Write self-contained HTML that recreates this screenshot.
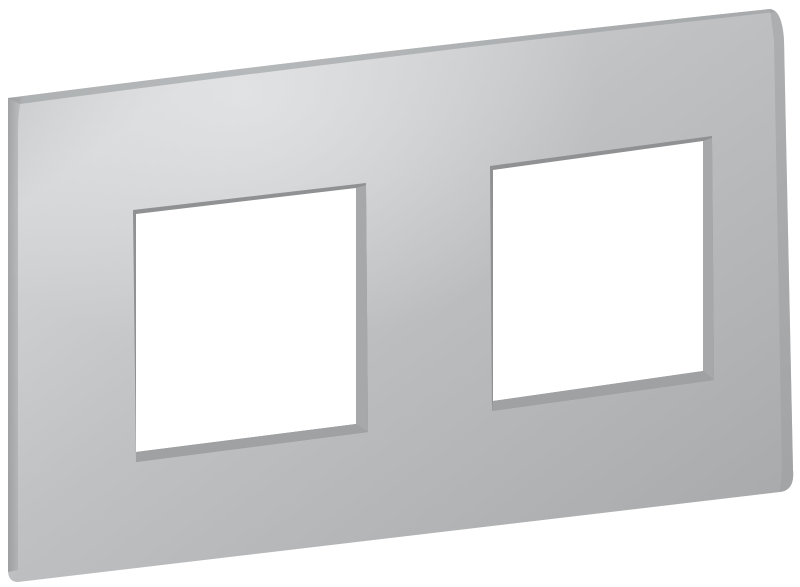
<!DOCTYPE html>
<html><head><meta charset="utf-8">
<style>html,body{margin:0;padding:0;background:#fff;width:800px;height:587px;overflow:hidden}</style>
</head><body>
<svg width="800" height="587" viewBox="0 0 800 587" xmlns="http://www.w3.org/2000/svg">
<defs>
<linearGradient id="face" x1="0" y1="0" x2="1" y2="1">
<stop offset="0" stop-color="#b4b6b8"/>
<stop offset="0.18" stop-color="#d2d4d6"/>
<stop offset="0.45" stop-color="#bfc1c3"/>
<stop offset="0.8" stop-color="#aeb0b2"/>
<stop offset="1" stop-color="#a4a6a8"/>
</linearGradient>
<radialGradient id="hl" cx="0.3" cy="0.15" r="0.45">
<stop offset="0" stop-color="#e4e6e8" stop-opacity="0.8"/>
<stop offset="1" stop-color="#e4e6e8" stop-opacity="0"/>
</radialGradient>
<linearGradient id="lefte" x1="0" y1="0" x2="1" y2="0">
<stop offset="0" stop-color="#8f9193"/>
<stop offset="1" stop-color="#b8babc"/>
</linearGradient>
</defs>
<!-- outer plate -->
<path d="M8,98 Q380,50 770,9 Q782,10 784,40 L793,470 Q795,490 780,492 L18,582 Q8,582 8,570 Z" fill="url(#face)"/>
<path d="M8,98 Q380,50 770,9 Q782,10 784,40 L793,470 Q795,490 780,492 L18,582 Q8,582 8,570 Z" fill="url(#hl)"/>
<!-- left edge shading -->
<path d="M8,98 L22,97 Q18,110 18,130 L18,570 L8,572 Z" fill="url(#lefte)" opacity="0.7"/>
<!-- top edge highlight -->
<path d="M8,98 Q380,50 770,9 L775,12 Q380,56 20,104 Z" fill="#9a9c9e" opacity="0.6"/>
<!-- right edge shading -->
<path d="M770,9 Q782,10 784,40 L793,470 Q795,490 780,492 L782,470 L774,40 Z" fill="#9c9ea0" opacity="0.5"/>
<!-- left window -->
<polygon points="133,210 366,183 368,432 136,462" fill="#8f9193"/>
<polygon points="136,214 356,188 356,424 136,452" fill="#fff"/>
<polygon points="356,188 366,185 368,432 356,424" fill="#a6a8aa"/>
<polygon points="136,452 356,424 368,432 136,462" fill="#9fa1a3"/>
<!-- right window -->
<polygon points="490,166 712,136 714,380 492,411" fill="#8f9193"/>
<polygon points="493,170 703,141 703,371 493,401" fill="#fff"/>
<polygon points="703,141 712,138 714,380 703,371" fill="#a6a8aa"/>
<polygon points="493,401 703,371 714,380 492,411" fill="#9fa1a3"/>
</svg>
</body></html>
